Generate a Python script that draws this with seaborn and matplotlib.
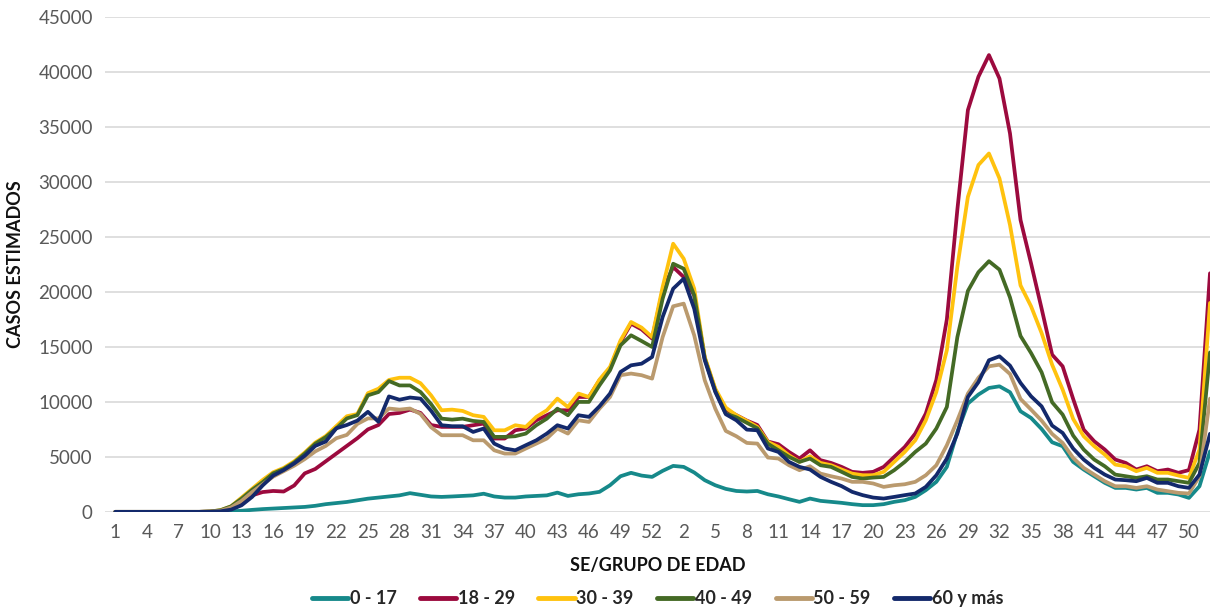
import numpy as np
import pandas as pd
import seaborn as sns
import matplotlib.pyplot as plt

# epidemiological weeks: 2020 (1-53) followed by 2021 (1-52)
weeks = list(range(1, 54)) + list(range(1, 53))

groups = ['0 - 17', '18 - 29', '30 - 39', '40 - 49', '50 - 59', '60 y más']

g_0_17 = [0, 0, 0, 0, 0, 0, 0, 0, 0, 10, 20, 40, 100, 180, 250, 300, 350, 400, 450, 550,
          700, 800, 900, 1050, 1200, 1300, 1400, 1500, 1700, 1550, 1400, 1360, 1400, 1450, 1500, 1650,
          1400, 1300, 1300, 1400, 1450, 1500, 1750, 1450, 1600, 1670, 1820, 2420, 3240, 3550, 3300,
          3180, 3730, 4180, 4090, 3580, 2880, 2420, 2090, 1900, 1850, 1900, 1600, 1400, 1150, 910,
          1210, 1000, 910, 820, 700, 610, 610, 700, 910, 1060, 1360, 1970, 2730, 4090, 7270, 9850,
          10670, 11270, 11420, 10880, 9150, 8540, 7540, 6330, 5970, 4545, 3850, 3240, 2640, 2180,
          2180, 2030, 2180, 1730, 1730, 1580, 1270, 2330, 5500]

g_18_29 = [0, 0, 0, 0, 0, 0, 0, 0, 0, 20, 80, 300, 900, 1500, 1800, 1900, 1850, 2400, 3500, 3900,
           4600, 5300, 6000, 6700, 7500, 7900, 8900, 9000, 9300, 9000, 7900, 7730, 7730, 7730, 7880,
           8030, 6670, 6670, 7420, 7580, 8330, 8790, 9240, 9240, 10450, 10450, 11970, 13030, 15450,
           17120, 16600, 15760, 20150, 22270, 21360, 19700, 14000, 11100, 9300, 8800, 8300, 7900,
           6400, 6150, 5450, 4850, 5600, 4700, 4450, 4090, 3640, 3550, 3640, 4090, 5000, 5900, 7120,
           8940, 12000, 17500, 27500, 36550, 39580, 41550, 39420, 34420, 26550, 22600, 18500, 14300,
           13240, 10270, 7480, 6420, 5670, 4760, 4450, 3850, 4150, 3700, 3850, 3550, 3800, 7480, 21700]

g_30_39 = [0, 0, 0, 0, 0, 0, 0, 0, 0, 30, 150, 500, 1300, 2100, 2900, 3600, 4000, 4600, 5400, 6300,
           6900, 7800, 8700, 8900, 10800, 11200, 12000, 12200, 12200, 11700, 10600, 9240, 9300, 9180,
           8790, 8640, 7420, 7420, 7880, 7730, 8640, 9240, 10300, 9540, 10760, 10450, 12030, 13180,
           15600, 17270, 16760, 15900, 20450, 24390, 23030, 20300, 14090, 11210, 9480, 8790, 8270,
           7730, 6360, 5910, 5150, 4545, 5060, 4450, 4240, 3850, 3480, 3330, 3330, 3640, 4545, 5450,
           6510, 8330, 10900, 14700, 22300, 28660, 31550, 32600, 30330, 26090, 20600, 18700, 16270,
           13390, 11120, 8450, 6880, 5970, 5210, 4300, 4150, 3700, 4000, 3550, 3550, 3300, 3090, 5670,
           19000]

g_40_49 = [0, 0, 0, 0, 0, 0, 0, 0, 0, 30, 150, 500, 1200, 2000, 2700, 3500, 3900, 4500, 5300, 6200,
           6800, 7600, 8500, 8800, 10600, 10900, 11900, 11500, 11500, 10900, 9800, 8480, 8390, 8480,
           8270, 8180, 6820, 6820, 6880, 7120, 7880, 8480, 9390, 8790, 10000, 10000, 11510, 12880,
           15150, 16060, 15540, 15000, 19390, 22570, 22120, 19700, 13940, 11000, 8940, 8600, 8100,
           7600, 6200, 5600, 5000, 4545, 4850, 4240, 4090, 3640, 3180, 3030, 3120, 3180, 3790, 4545,
           5450, 6210, 7580, 9540, 15900, 20100, 21800, 22800, 22030, 19500, 16000, 14450, 12700, 9970,
           8850, 6940, 5670, 4760, 4150, 3390, 3240, 3090, 3240, 2940, 2940, 2790, 2640, 4450, 14500]

g_50_59 = [0, 0, 0, 0, 0, 0, 0, 0, 0, 20, 100, 400, 1000, 1800, 2500, 3200, 3700, 4200, 4800, 5500,
           6000, 6700, 7000, 8000, 8500, 8500, 9400, 9300, 9400, 8900, 7700, 6970, 6970, 6970, 6510,
           6510, 5600, 5300, 5300, 5760, 6210, 6670, 7580, 7120, 8330, 8180, 9390, 10450, 12430,
           12580, 12430, 12120, 15900, 18700, 18940, 16060, 11970, 9390, 7360, 6880, 6270, 6210,
           4940, 4850, 4240, 3790, 4150, 3480, 3240, 3030, 2730, 2730, 2580, 2270, 2420, 2510, 2730,
           3330, 4240, 6060, 8330, 10760, 12200, 13240, 13390, 12540, 10270, 9300, 8300, 7090, 6270,
           4910, 4000, 3390, 2790, 2330, 2330, 2180, 2330, 2030, 1880, 1730, 1670, 3240, 10300]

g_60_mas = [0, 0, 0, 0, 0, 0, 0, 0, 0, 10, 50, 200, 600, 1360, 2400, 3300, 3800, 4400, 5100, 6000,
            6400, 7600, 7900, 8300, 9100, 8200, 10500, 10200, 10400, 10300, 9200, 7880, 7790, 7790,
            7270, 7580, 6210, 5760, 5600, 6060, 6510, 7120, 7880, 7580, 8790, 8640, 9600, 10760,
            12730, 13330, 13480, 14090, 17730, 20300, 21210, 18480, 13790, 10910, 8880, 8330, 7480,
            7420, 5760, 5450, 4545, 4090, 3850, 3180, 2730, 2340, 1820, 1520, 1300, 1210, 1360, 1520,
            1670, 2270, 3330, 4850, 7120, 10450, 11800, 13790, 14150, 13300, 11730, 10510, 9600, 7850,
            7180, 5760, 4760, 4000, 3390, 2940, 2880, 2790, 3090, 2640, 2640, 2330, 2180, 3390, 7100]

colors = ['#16898A', '#9C0A3E', '#FFC20E', '#446A25', '#BA9A6E', '#13296B']

series = [g_0_17, g_18_29, g_30_39, g_40_49, g_50_59, g_60_mas]
n = len(weeks)
df = pd.DataFrame({
    'idx': np.tile(np.arange(n), len(groups)),
    'casos': np.concatenate(series),
    'grupo': np.repeat(groups, n),
})

sns.set_style('white')
plt.rcParams['font.family'] = ['Lato', 'DejaVu Sans']

fig = plt.figure(figsize=(12.1, 6.13), dpi=100)
ax = fig.add_axes([0.087, 0.165, 0.913, 0.807])

sns.lineplot(data=df, x='idx', y='casos', hue='grupo', palette=colors,
             linewidth=2.7, ax=ax, legend=True)

ax.set_xlim(-0.95, n - 1)
ax.set_ylim(0, 45000)
ax.set_yticks(range(0, 45001, 5000))
ax.yaxis.grid(True, color='#D9D9D9', linewidth=1.2)
ax.xaxis.grid(False)
for s in ax.spines.values():
    s.set_visible(False)

ax.set_xticks(range(0, n, 3))
ax.set_xticklabels([str(weeks[i]) for i in range(0, n, 3)])
ax.tick_params(axis='both', labelsize=13.5, colors='#595959', length=0)
ax.tick_params(axis='x', pad=9)
ax.tick_params(axis='y', pad=9)

ax.set_xlabel('SE/GRUPO DE EDAD', fontsize=13, fontweight='bold', color='#111111', labelpad=11)
ax.set_ylabel('CASOS ESTIMADOS', fontsize=13, fontweight='bold', color='#111111', labelpad=10)

handles, labels = ax.get_legend_handles_labels()
for h in handles:
    h.set_linewidth(3.5)
leg = ax.legend(handles, labels, loc='center', bbox_to_anchor=(0.5, -0.175),
                ncol=6, frameon=False, fontsize=13, handlelength=2.0,
                handletextpad=0.1, columnspacing=1.3)
for t in leg.get_texts():
    t.set_fontweight('bold')

fig.savefig('out.png', dpi=100)
